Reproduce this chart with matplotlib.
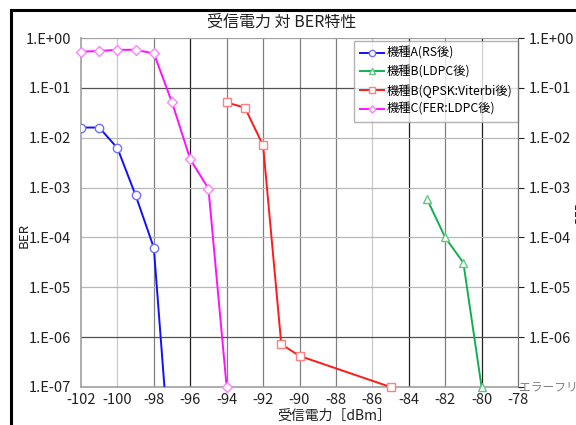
import matplotlib
matplotlib.use("Agg")
import matplotlib.pyplot as plt
from matplotlib.lines import Line2D
import numpy as np

plt.rcParams['font.family'] = ['Noto Sans CJK JP', 'DejaVu Sans']

# Series data: received power [dBm] and BER
a_x = [-102, -101, -100, -99, -98, -97]
a_y = [0.016, 0.016, 0.0062, 7.0e-4, 6.2e-5, 1.0e-9]

b_ldpc_x = [-83, -82, -81, -80]
b_ldpc_y = [5.9e-4, 1.0e-4, 3.1e-5, 1.0e-7]

b_vit_x = [-94, -93, -92, -91, -90, -85]
b_vit_y = [0.051, 0.040, 0.0070, 7.2e-7, 4.2e-7, 1.0e-7]

c_x = [-102, -101, -100, -99, -98, -97, -96, -95, -94]
c_y = [0.53, 0.55, 0.58, 0.58, 0.49, 0.051, 0.0037, 9.5e-4, 1.0e-7]

labels = ['機種A(RS後)', '機種B(LDPC後)', '機種B(QPSK:Viterbi後)', '機種C(FER:LDPC後)']
x_ticks = list(range(-102, -77, 2))
y_ticks = [1e0, 1e-1, 1e-2, 1e-3, 1e-4, 1e-5, 1e-6, 1e-7]
y_tick_labels = ['1.E+00', '1.E-01', '1.E-02', '1.E-03', '1.E-04', '1.E-05', '1.E-06', '1.E-07']
right_tick_labels = ['1.E+00', '1.E-01', '1.E-02', '1.E-03', '1.E-04', '1.E-05', '1.E-06', '']

W, H = 576, 425
fig = plt.figure(figsize=(W / 100, H / 100), dpi=100)

# outer chart frame (left and top edges)
fig.add_artist(Line2D([10.5 / W, 10.5 / W], [0, 1 - 10 / H], color='black', lw=2.2,
                      transform=fig.transFigure, solid_capstyle='projecting'))
fig.add_artist(Line2D([10.5 / W, 1], [1 - 10 / H, 1 - 10 / H], color='black', lw=2.2,
                      transform=fig.transFigure, solid_capstyle='projecting'))

ax = fig.add_axes([81 / W, 1 - 387 / H, (518 - 81) / W, (387 - 38) / H])
ax.set_yscale('log')
ax.set_xlim(-102, -78)
ax.set_ylim(1e-7, 1e0)

# grid lines
for xv in x_ticks[1:-1]:
    if xv in (-96, -84, -80):
        col = '#202020'
    elif xv in (-100, -86):
        col = '#c8c8c8'
    else:
        col = '#808080'
    ax.axvline(xv, color=col, lw=0.9, zorder=1)
for yv in y_ticks[1:-1]:
    col = '#505050' if yv in (1e-1, 1e-6) else '#b8b8b8'
    ax.axhline(yv, color=col, lw=0.9, zorder=1)
ax.axhline(1e0, color='#a0a0a0', lw=0.9, zorder=1)

ms = 6
ax.plot(a_x, a_y, color='#1010ff', lw=1.4, marker='o', ms=ms, mfc='white',
        mec='#7070ff', mew=1.0, label=labels[0], zorder=3)
ax.plot(b_ldpc_x, b_ldpc_y, color='#10b050', lw=1.4, marker='^', ms=ms, mfc='white',
        mec='#60c880', mew=1.0, label=labels[1], zorder=3, clip_on=False)
ax.plot(b_vit_x, b_vit_y, color='#ff1a1a', lw=1.4, marker='s', ms=ms, mfc='white',
        mec='#ff8080', mew=1.0, label=labels[2], zorder=3, clip_on=False)
ax.plot(c_x, c_y, color='#ff10ff', lw=1.4, marker='D', ms=4.8, mfc='white',
        mec='#ff80ff', mew=1.0, label=labels[3], zorder=3, clip_on=False)

ax.set_xticks(x_ticks)
ax.set_xticklabels([str(v) for v in x_ticks])
ax.set_yticks(y_ticks)
ax.set_yticklabels(y_tick_labels)
ax.minorticks_off()
ax.tick_params(axis='y', length=0, labelsize=10.5, pad=7, colors='#202020')
ax.tick_params(axis='x', length=0, labelsize=10.5, pad=4, colors='#202020')

for s in ('left', 'bottom'):
    ax.spines[s].set_color('#a0a0a0')
    ax.spines[s].set_linewidth(1.2)
ax.spines['top'].set_visible(False)
ax.spines['right'].set_color('#707070')

ax2 = ax.twinx()
ax2.set_yscale('log')
ax2.set_ylim(1e-7, 1e0)
ax2.set_yticks(y_ticks)
ax2.set_yticklabels(right_tick_labels)
ax2.minorticks_off()
ax2.tick_params(axis='y', length=4, labelsize=10.5, pad=4, colors='#202020', direction='out')
for s in ('top', 'left', 'bottom'):
    ax2.spines[s].set_visible(False)
ax2.spines['right'].set_color('#707070')
ax2.text(1.003, 0.0, 'エラーフリー', transform=ax2.transAxes, fontsize=8.5,
         color='#808080', va='center', ha='left', clip_on=False)
fig.text(574 / W, 1 - 212 / H, 'BER', fontsize=8.5, rotation=90,
         ha='left', va='center', color='#202020')

fig.text(282 / W, 1 - 22 / H, '受信電力 対 BER特性', fontsize=11.5,
         ha='center', va='center', color='#202020')
fig.text(334 / W, 1 - 416 / H, '受信電力［dBm］', fontsize=10,
         ha='center', va='center', color='#202020')
fig.text(24 / W, 1 - 235 / H, 'BER', fontsize=9.5, rotation=90,
         ha='center', va='center', color='#202020')

leg = ax.legend(loc='upper right', bbox_to_anchor=(1.0, 0.99), fontsize=8.8,
                frameon=True, fancybox=False, edgecolor='#a0a0a0',
                handlelength=2.0, handletextpad=0.2, labelspacing=0.45,
                borderpad=0.45, borderaxespad=0.0, markerscale=0.75)
leg.get_frame().set_linewidth(1.0)
leg.set_zorder(5)

fig.savefig('out.png', dpi=100)
